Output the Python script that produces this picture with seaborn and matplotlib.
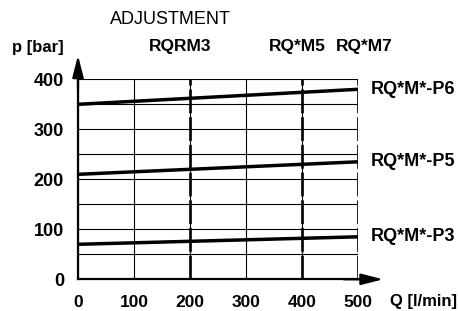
#!/usr/bin/env python3
"""Pressure adjustment curves p [bar] vs flow Q [l/min] for the RQ*M* valve series."""

import matplotlib

matplotlib.use("Agg")
import matplotlib.pyplot as plt
import pandas as pd
import seaborn as sns

# data
FLOW = [0, 500]
SERIES = ["RQ*M*-P6", "RQ*M*-P5", "RQ*M*-P3"]
P6 = [350, 380]
P5 = [210, 235]
P3 = [70, 85]
MODEL_FLOW = [200, 400, 500]
MODEL_NAMES = ["RQRM3", "RQ*M5", "RQ*M7"]
X_TICKS = [0, 100, 200, 300, 400, 500]
Y_TICKS = [0, 100, 200, 300, 400]
Y_MINOR = [0, 50, 100, 150, 200, 250, 300, 350, 400]

df = pd.DataFrame(
    {
        "Q": FLOW * 3,
        "p": P6 + P5 + P3,
        "series": [s for s in SERIES for _ in FLOW],
    }
)

sns.set_theme(style="white")
plt.rcParams["font.family"] = ["Liberation Sans", "DejaVu Sans"]
plt.rcParams["text.color"] = "black"
plt.rcParams["xtick.color"] = "black"
plt.rcParams["ytick.color"] = "black"

fig = plt.figure(figsize=(4.58, 3.11), dpi=100)
ax = fig.add_axes([0.1703, 0.1019, 0.6114, 0.6431])

ax.set_xlim(0, 500)
ax.set_ylim(0, 400)
ax.set_xticks(X_TICKS)
ax.set_yticks(Y_TICKS)
ax.set_yticks(Y_MINOR, minor=True)
ax.grid(which="both", color="black", linewidth=0.8)
ax.set_axisbelow(True)

# thick dashed marker lines for the valve models
for q in MODEL_FLOW:
    ax.axvline(q, color="black", linewidth=1.9, linestyle=(0, (9, 1.5)), zorder=2)

sns.lineplot(
    data=df,
    x="Q",
    y="p",
    hue="series",
    palette=["black"] * 3,
    linewidth=2.5,
    legend=False,
    ax=ax,
    zorder=3,
)

for name, vals in zip(SERIES, [P6, P5, P3]):
    ax.text(FLOW[-1] + 22, vals[-1], name, fontsize=13, fontweight="bold",
            ha="left", va="center", color="black")

for q, name in zip(MODEL_FLOW, MODEL_NAMES):
    off = {"RQRM3": -17, "RQ*M5": -8, "RQ*M7": 12}[name]
    ax.text(q + off, 465, name, fontsize=12.5, fontweight="bold", ha="center", va="center",
            clip_on=False, color="black")

ax.set_xlabel("")
ax.set_ylabel("")
ax.tick_params(axis="both", length=0, labelsize=12.5, labelcolor="black")
ax.tick_params(axis="y", pad=10, labelsize=13)
ax.tick_params(axis="x", pad=11)
for lab in ax.get_xticklabels() + ax.get_yticklabels():
    lab.set_fontweight("bold")

for side in ("top", "right"):
    ax.spines[side].set_visible(False)
for side in ("left", "bottom"):
    ax.spines[side].set_linewidth(1.6)
    ax.spines[side].set_color("black")

arrow = dict(arrowstyle="-|>,head_length=1.1,head_width=0.28", color="black", lw=1.6,
             shrinkA=0, shrinkB=0)
ax.annotate("", xy=(0, 1.12), xytext=(0, 0.95), xycoords="axes fraction", arrowprops=arrow)
ax.annotate("", xy=(1.09, 0), xytext=(0.95, 0), xycoords="axes fraction", arrowprops=arrow)

fig.text(0.373, 0.936, "ADJUSTMENT", fontsize=13, ha="center", va="center", color="black")
fig.text(0.026, 0.846, "p [bar]", fontsize=12, fontweight="bold", ha="left", va="center",
         color="black")
fig.text(0.851, 0.032, "Q [l/min]", fontsize=12, fontweight="bold", ha="left", va="center",
         color="black")

fig.savefig("out.png", dpi=100)
plt.close(fig)
